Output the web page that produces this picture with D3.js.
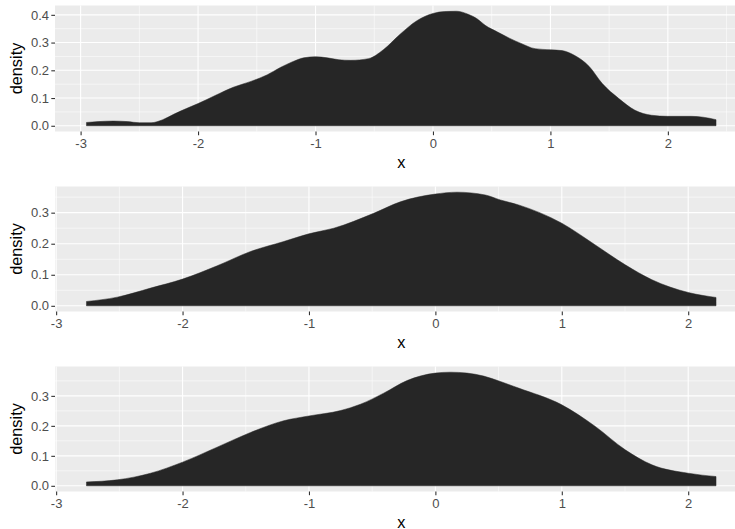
<!DOCTYPE html>
<html>
<head>
<meta charset="utf-8">
<script src="https://cdn.jsdelivr.net/npm/d3@7"></script>
<style>
  html, body { margin: 0; padding: 0; background: #fff; }
  svg { display: block; }
  text { font-family: "Liberation Sans", Arial, sans-serif; }
</style>
</head>
<body>
<svg id="chart" width="735" height="529"></svg>
<script>
// ---- data ----
const p1X = [-2.95, -2.85, -2.72, -2.6, -2.5, -2.4, -2.3, -2.2, -2.1, -2.0, -1.85, -1.7, -1.55, -1.41, -1.3, -1.2, -1.1, -1.0, -0.9, -0.8, -0.7, -0.55, -0.42, -0.28, -0.14, 0.0, 0.1, 0.2, 0.3, 0.375, 0.445, 0.55, 0.65, 0.75, 0.87, 1.0, 1.1, 1.2, 1.33, 1.44, 1.58, 1.72, 1.86, 2.0, 2.2, 2.3, 2.41];
const p1Y = [0.012, 0.015, 0.017, 0.015, 0.011, 0.011, 0.022, 0.043, 0.062, 0.080, 0.110, 0.139, 0.160, 0.184, 0.210, 0.230, 0.245, 0.249, 0.245, 0.238, 0.236, 0.242, 0.275, 0.330, 0.378, 0.405, 0.412, 0.413, 0.402, 0.386, 0.362, 0.338, 0.316, 0.297, 0.278, 0.274, 0.271, 0.255, 0.214, 0.153, 0.099, 0.056, 0.038, 0.034, 0.034, 0.031, 0.022];

const p2X = [-2.76, -2.516, -2.253, -2.0, -1.726, -1.462, -1.2, -1.0, -0.804, -0.488, -0.277, 0.0, 0.171, 0.395, 0.514, 0.658, 1.0, 1.265, 1.502, 1.713, 2.0, 2.22];
const p2Y = [0.014, 0.028, 0.057, 0.086, 0.129, 0.175, 0.207, 0.232, 0.250, 0.298, 0.335, 0.360, 0.366, 0.357, 0.341, 0.325, 0.266, 0.196, 0.132, 0.084, 0.043, 0.027];

const p3X = [-2.76, -2.516, -2.253, -2.0, -1.726, -1.462, -1.2, -1.0, -0.75, -0.593, -0.409, -0.224, 0.0, 0.119, 0.25, 0.382, 0.514, 0.658, 1.0, 1.265, 1.502, 1.713, 2.0, 2.22];
const p3Y = [0.013, 0.020, 0.042, 0.079, 0.129, 0.178, 0.217, 0.233, 0.251, 0.272, 0.309, 0.351, 0.376, 0.379, 0.376, 0.366, 0.348, 0.326, 0.270, 0.198, 0.120, 0.070, 0.042, 0.031];

const xTicks = [-3, -2, -1, 0, 1, 2];
const yTicks1 = [0, 0.1, 0.2, 0.3, 0.4];
const yTicks23 = [0, 0.1, 0.2, 0.3];
const xTitle = "x";
const yTitle = "density";

// ---- layout ----
const panels = [
  { xs: p1X, ys: p1Y, yTicks: yTicks1, top: 5.5, bottom: 131.5 },
  { xs: p2X, ys: p2Y, yTicks: yTicks23, top: 186.5, bottom: 311.5 },
  { xs: p3X, ys: p3Y, yTicks: yTicks23, top: 366.5, bottom: 491.5 }
];
const left = 55, right = 747.5;
const tickFont = "13px", titleFont = "16.3px";

const svg = d3.select("#chart");

panels.forEach(p => {
  const data = p.xs.map((x, i) => ({ x, y: p.ys[i] }));
  const [xmin, xmax] = d3.extent(p.xs);
  const xpad = (xmax - xmin) * 0.05;
  const ymax = d3.max(p.ys);
  const x = d3.scaleLinear().domain([xmin - xpad, xmax + xpad]).range([left, right]);
  const y = d3.scaleLinear().domain([-0.05 * ymax, 1.05 * ymax]).range([p.bottom, p.top]);

  const g = svg.append("g");
  g.append("rect").attr("x", left).attr("y", p.top)
    .attr("width", right - left).attr("height", p.bottom - p.top).attr("fill", "#EBEBEB");

  // minor grid
  const xMinor = d3.range(-3.5, 3.01, 1).filter(v => v >= x.domain()[0] && v <= x.domain()[1]);
  const yMinor = d3.range(0.05, 0.5, 0.1).filter(v => v >= y.domain()[0] && v <= y.domain()[1]);
  g.selectAll(".xminor").data(xMinor).enter().append("line")
    .attr("x1", d => x(d)).attr("x2", d => x(d)).attr("y1", p.top).attr("y2", p.bottom)
    .attr("stroke", "#fff").attr("stroke-width", 0.55);
  g.selectAll(".yminor").data(yMinor).enter().append("line")
    .attr("y1", d => y(d)).attr("y2", d => y(d)).attr("x1", left).attr("x2", right)
    .attr("stroke", "#fff").attr("stroke-width", 0.55);
  // major grid
  const xMajor = xTicks.filter(v => v >= x.domain()[0] && v <= x.domain()[1]);
  g.selectAll(".xmajor").data(xMajor).enter().append("line")
    .attr("x1", d => x(d)).attr("x2", d => x(d)).attr("y1", p.top).attr("y2", p.bottom)
    .attr("stroke", "#fff").attr("stroke-width", 1.1);
  g.selectAll(".ymajor").data(p.yTicks).enter().append("line")
    .attr("y1", d => y(d)).attr("y2", d => y(d)).attr("x1", left).attr("x2", right)
    .attr("stroke", "#fff").attr("stroke-width", 1.1);

  // density area
  const area = d3.area().x(d => x(d.x)).y0(y(0)).y1(d => y(d.y)).curve(d3.curveMonotoneX);
  g.append("path").datum(data).attr("d", area).attr("fill", "#262626")
    .attr("stroke", "#262626").attr("stroke-width", 0.5);

  // axes
  const xAxis = d3.axisBottom(x).tickValues(xMajor).tickFormat(d3.format("d"))
    .tickSize(3.7).tickPadding(4);
  const xa = g.append("g").attr("transform", `translate(0,${p.bottom})`).call(xAxis);
  xa.select(".domain").remove();
  xa.selectAll("line").attr("stroke", "#333").attr("stroke-width", 1.1);
  xa.selectAll("text").attr("fill", "#4D4D4D").style("font-size", tickFont)
    .text(d => (d < 0 ? "-" + Math.abs(d) : String(d)));

  const yAxis = d3.axisLeft(y).tickValues(p.yTicks).tickFormat(d3.format(".1f"))
    .tickSize(3.7).tickPadding(2.2);
  const ya = g.append("g").attr("transform", `translate(${left},0)`).call(yAxis);
  ya.select(".domain").remove();
  ya.selectAll("line").attr("stroke", "#333").attr("stroke-width", 1.1);
  ya.selectAll("text").attr("fill", "#4D4D4D").style("font-size", tickFont);

  // titles
  g.append("text").attr("x", (left + right) / 2).attr("y", p.bottom + 36)
    .attr("text-anchor", "middle").attr("fill", "#000").style("font-size", titleFont).text(xTitle);
  g.append("text")
    .attr("transform", `translate(22,${(p.top + p.bottom) / 2}) rotate(-90)`)
    .attr("text-anchor", "middle").attr("fill", "#000").style("font-size", titleFont).text(yTitle);
});
</script>
</body>
</html>
